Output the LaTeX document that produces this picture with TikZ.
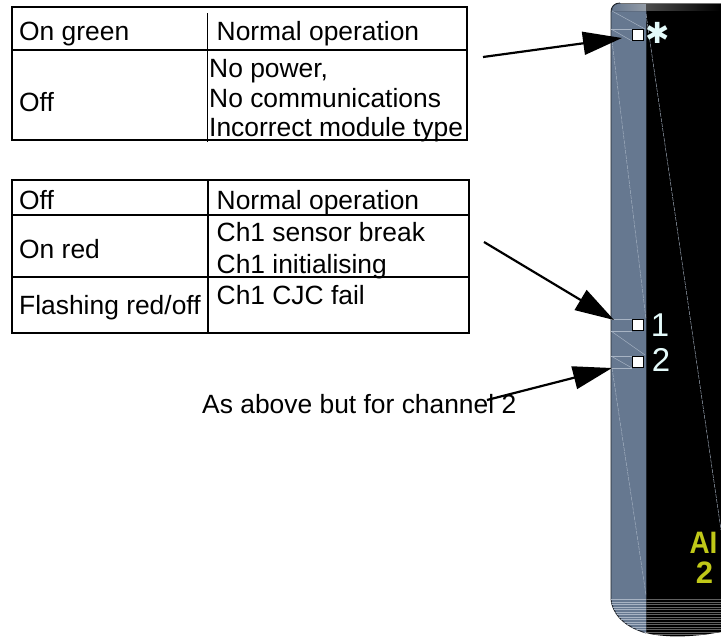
\documentclass[tikz,border=0pt]{standalone}
\usepackage{fontspec}
\setmainfont{Liberation Sans}
\newfontfamily\symfont{DejaVu Sans}
\usetikzlibrary{calc,arrows.meta}
\definecolor{strip}{HTML}{667890}
\definecolor{faint}{HTML}{A8B4C4}
\definecolor{ledtxt}{HTML}{E4FAFA}
\definecolor{ai}{HTML}{C0C818}
\tikzset{
  x=1pt,y=-1pt,
  rule/.style={line width=1.4pt,black},
  celltxt/.style={inner sep=0pt,anchor=base west,font=\fontsize{26.4}{28}\selectfont,text=black},
  led/.style={draw=black,fill=white,line width=0.8pt,minimum size=11.5pt,inner sep=0pt},
  ledlabel/.style={inner sep=0pt,text=ledtxt,font=\fontsize{33}{33}\selectfont},
  hair/.style={draw=faint,line width=0.45pt},
  ptr/.style={line width=2.2pt,black,-{Triangle[length=39pt,width=23pt]}},
}
\begin{document}
\begin{tikzpicture}
\useasboundingbox (0,0) rectangle (721,638);
% device
\fill[black] (646,3) -- (721,3) -- (721,632) .. controls (700,636) and (670,639) .. (646,633) -- cycle;
\fill[strip] (620,3) .. controls (614,3) and (611,7) .. (611,12) -- (611,599) .. controls (612,612) and (622,626) .. (646,633) -- (646,3) -- cycle;
\draw[black!70!strip,line width=0.9pt] (646,3) -- (646,633);
\draw[black!70!strip,line width=0.9pt] (620,3) .. controls (614,3) and (611,7) .. (611,12) -- (611,599) .. controls (612,612) and (622,626) .. (646,633);
% top bands
\fill[left color=strip,right color=black!25!strip!60!white] (621,3.5) .. controls (615,3.5) and (612,7) .. (612,11) -- (646,11) -- (646,3.5) -- cycle;
\fill[left color=black!70,right color=black] (646,3) rectangle (721,10);
\draw[black!55,line width=0.7pt] (621,3) -- (721,3);
% bottom stripes
\begin{scope}
\clip (611,599) .. controls (612,612) and (622,626) .. (646,633) .. controls (670,639) and (700,636) .. (721,632) -- (721,599) -- cycle;
\foreach \yy in {599.5,602,604.5,607,609.5,612,614.5,617,619.5,622,624.5,627,629.5,632,634.5}{
  \draw[faint,line width=0.5pt] (611,\yy) -- (646,\yy);
  \draw[black!62,line width=0.6pt] (646,\yy) -- (721,\yy);
}
\end{scope}
% hairlines on the strip and panel
\draw[hair] (612,11) -- (645,29);
\draw[hair] (611,29) -- (632,29);
\draw[hair] (611,29) -- (632,41);
\draw[hair,dash pattern=on 4pt off 1pt] (612,41) -- (646,319);
\draw[hair] (611,319) -- (632,319);
\draw[hair] (611,331) -- (632,331);
\draw[hair] (611,331) -- (645,355);
\draw[hair] (611,356) -- (632,356);
\draw[hair] (611,368) -- (632,368);
\draw[hair] (611,356) -- (632,368);
\draw[hair,dash pattern=on 4pt off 1pt] (612,368) -- (646,595);
\draw[hair,dash pattern=on 4pt off 1pt] (646,14) -- (721,530);
% LEDs
\node[led] (ledA) at (638,35) {};
\node[led] (ledB) at (638,325) {};
\node[led] (ledC) at (638,362) {};
\node[inner sep=0pt,text=ledtxt,font=\symfont\fontsize{29}{29}\selectfont] (star) at (658,33) {✱};
\node[ledlabel] (one) at (660,325.5) {1};
\node[ledlabel] (two) at (661,359.5) {2};
\node[inner sep=0pt,text=ai,xscale=0.9,font=\bfseries\fontsize{31}{31}\selectfont] (aitxt) at (703.5,543) {AI};
\node[inner sep=0pt,text=ai,font=\bfseries\fontsize{31}{31}\selectfont] (aitwo) at (704.5,572.5) {2};
% table 1
\draw[rule] (12,7) rectangle (467,140);
\draw[rule] (12,50) -- (467,50);
\draw[line width=0.9pt] (207,13) -- (207,142);
\node[celltxt] (t1a) at (19,40) {On green};
\node[celltxt] (t1b) at (216.5,40) {Normal operation};
\node[celltxt] (t1c) at (19,111.5) {Off};
\node[celltxt] (t1d) at (209,77) {No power,};
\node[celltxt] (t1e) at (209,107) {No communications};
\node[celltxt] (t1f) at (209,136.5) {Incorrect module type};
% table 2
\draw[rule] (12,180) rectangle (469,333);
\draw[rule] (12,215) -- (469,215);
\draw[rule] (12,277) -- (469,277);
\draw[rule] (208,180) -- (208,333);
\node[celltxt] (t2a) at (19,209.5) {Off};
\node[celltxt] (t2b) at (216.5,209.5) {Normal operation};
\node[celltxt] (t2c) at (19,258.5) {On red};
\node[celltxt] (t2d) at (216.5,241.5) {Ch1 sensor break};
\node[celltxt] (t2e) at (216.5,273.5) {Ch1 initialising};
\node[celltxt] (t2f) at (19,314.5) {Flashing red/off};
\node[celltxt] (t2g) at (216.5,304.5) {Ch1 CJC fail};
\node[celltxt] (note) at (202,413.5) {As above but for channel 2};
% pointers
\coordinate (p1s) at (483,57);
\coordinate (p1e) at (622,38);
\coordinate (p2s) at (484,242);
\coordinate (p2e) at (614,320);
\coordinate (p3s) at (487,400);
\coordinate (p3e) at (612,368);
\draw[ptr] (p1s) -- (p1e);
\draw[ptr] (p2s) -- (p2e);
\draw[ptr] (p3s) -- (p3e);
\end{tikzpicture}
\end{document}
